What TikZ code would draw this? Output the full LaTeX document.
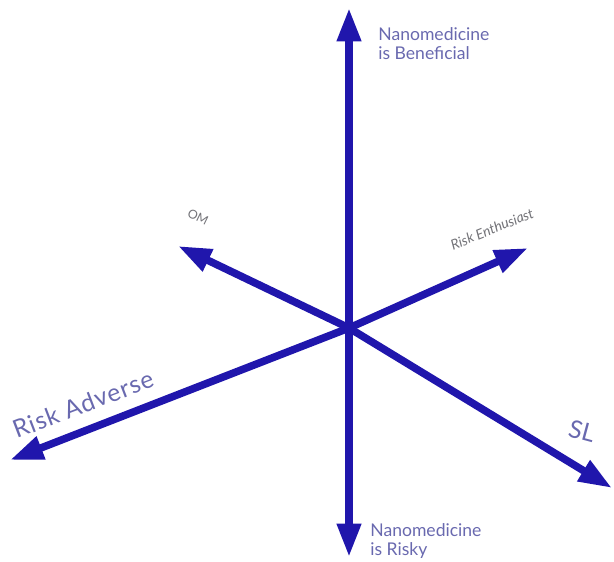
\documentclass[tikz,border=0pt]{standalone}
\usepackage{fontspec}
\setmainfont{Lato}
\usepackage{tikz}
\usetikzlibrary{arrows.meta,positioning}
\definecolor{axisblue}{RGB}{32,22,172}
\definecolor{labelblue}{RGB}{105,105,175}
\definecolor{labelgray}{RGB}{115,115,120}

\begin{document}
\begin{tikzpicture}[
    x=0.02cm, y=0.02cm,
    axis/.style={line width=4.3pt,axisblue,-{Triangle[length=19pt,width=13pt]}},
    lab/.style={font=\fontsize{10}{11}\selectfont,labelblue,align=left,inner sep=0pt},
    small/.style={font=\fontsize{8}{9}\selectfont\itshape,labelgray,inner sep=0pt}
]
\useasboundingbox (0,0) rectangle (614,561);
% centre and axis ends
\coordinate (o) at (349,233);
\coordinate (ben) at (349,553);
\coordinate (risky) at (349,4);
\coordinate (om) at (178,315);
\coordinate (ent) at (528,313);
\coordinate (adv) at (10,101);
\coordinate (sl) at (612,73);

% axes
\draw[axis] (o) -- (ben);
\draw[axis] (o) -- (risky);
\draw[axis] (o) -- (om);
\draw[axis] (o) -- (ent);
\draw[axis] (o) -- (adv);
\draw[axis] (o) -- (sl);

% labels
\node[lab,anchor=north west] (benlab) at (378,534) {Nanomedicine\\is Beneficial};
\node[lab,anchor=north west] (risklab) at (370,38) {Nanomedicine\\is Risky};
\node[small,rotate=-26,font=\fontsize{7}{8}\selectfont] (omlab) at (198,344) {OM};
\node[small,rotate=22] (entlab) at (492,332) {Risk Enthusiast};
\node[lab,rotate=21,font=\fontsize{14}{15}\selectfont\addfontfeature{LetterSpace=4}] (advlab) at (83,157) {Risk Adverse};
\node[lab,rotate=-15,font=\fontsize{14}{15}\selectfont] (sllab) at (582,130) {SL};
\end{tikzpicture}
\end{document}
